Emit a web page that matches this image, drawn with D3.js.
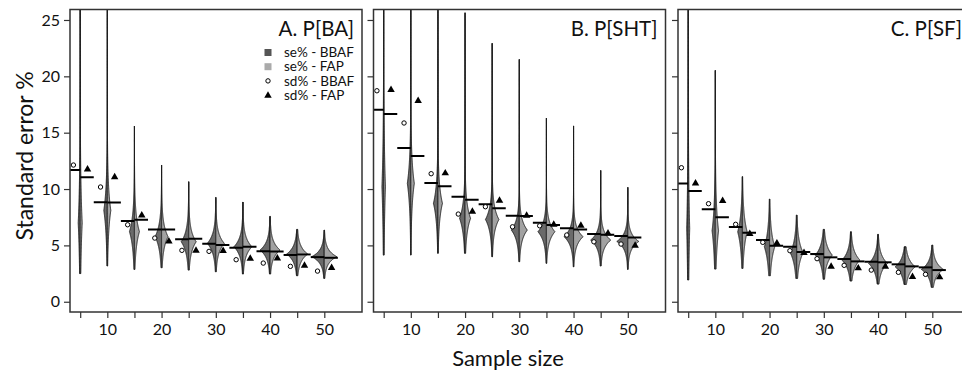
<!DOCTYPE html>
<html><head><meta charset="utf-8">
<script src="https://cdn.jsdelivr.net/npm/d3@7"></script>
<style>body{margin:0;background:#fff}svg{display:block;font-family:Lato,"Open Sans",sans-serif}</style>
</head><body><svg id="chart" width="962" height="373"></svg>
<script>
// ---------- DATA ----------
const sampleSizes = [5, 10, 15, 20, 25, 30, 35, 40, 45, 50];
const panelTitles = ["A. P[BA]", "B. P[SHT]", "C. P[SF]"];
const yTicks = [0, 5, 10, 15, 20, 25];
const xTicks = [5, 10, 15, 20, 25, 30, 35, 40, 45, 50];
const xTickLabels = ["", "10", "", "20", "", "30", "", "40", "", "50"];
const legendLabels = ["se% - BBAF", "se% - FAP", "sd% - BBAF", "sd% - FAP"];

// Panel A: P[BA]
const meanBBAF_A = [11.69, 8.82, 7.16, 6.42, 5.55, 5.15, 4.79, 4.48, 4.15, 3.96];
const meanFAP_A  = [11.04, 8.80, 7.28, 6.42, 5.60, 5.03, 4.88, 4.45, 4.20, 3.90];
const sdBBAF_A   = [12.13, 10.18, 6.83, 5.65, 4.56, 4.47, 3.73, 3.43, 3.14, 2.72];
const sdFAP_A    = [11.80, 11.10, 7.72, 5.41, 4.59, 4.56, 3.88, 3.90, 3.26, 3.05];
const vMin_A     = [2.50, 3.17, 2.87, 3.02, 2.81, 2.66, 2.46, 2.46, 2.31, 2.07];
const vMax_A     = [30, 30, 15.59, 12.13, 10.65, 9.26, 8.85, 7.58, 6.42, 6.36];
const vMode_A    = [7.0, 8.1, 6.22, 5.77, 5.32, 5.18, 4.88, 4.59, 4.23, 4.00];
const vPeak_A    = [0.16, 0.28, 0.40, 0.52, 0.60, 0.68, 0.72, 0.80, 0.84, 1.00];

// Panel B: P[SHT]
const meanBBAF_B = [17.04, 13.64, 10.53, 9.32, 8.64, 7.63, 7.01, 6.51, 6.01, 5.83];
const meanFAP_B  = [16.66, 12.93, 10.24, 9.05, 8.29, 7.60, 6.80, 6.42, 5.95, 5.71];
const sdBBAF_B   = [18.72, 15.86, 11.36, 7.78, 8.43, 6.65, 6.74, 5.92, 5.32, 5.12];
const sdFAP_B    = [18.85, 17.87, 11.45, 8.05, 9.02, 7.69, 6.90, 6.80, 6.12, 5.03];
const vMin_B     = [4.14, 4.14, 4.30, 4.30, 3.99, 3.55, 3.41, 3.10, 3.17, 2.87];
const vMax_B     = [30, 30, 30, 25.64, 22.93, 21.50, 16.30, 15.60, 11.65, 10.15];
const vMode_B    = [10.2, 10.5, 8.73, 7.40, 7.30, 6.36, 6.21, 5.77, 5.47, 5.35];
const vPeak_B    = [0.14, 0.28, 0.36, 0.44, 0.54, 0.64, 0.68, 0.76, 0.80, 0.88];

// Panel C: P[SF]
const meanBBAF_C = [10.50, 8.20, 6.63, 5.47, 4.88, 4.23, 3.79, 3.55, 3.32, 3.05];
const meanFAP_C  = [9.82, 7.49, 6.12, 4.97, 4.41, 3.94, 3.58, 3.50, 3.14, 2.81];
const sdBBAF_C   = [11.89, 8.70, 6.87, 5.27, 4.53, 3.82, 3.23, 2.81, 2.61, 2.43];
const sdFAP_C    = [10.56, 9.00, 6.07, 5.24, 4.38, 3.17, 3.02, 3.17, 2.25, 2.22];
const vMin_C     = [1.93, 2.90, 2.96, 2.31, 2.07, 2.00, 1.84, 1.57, 1.54, 1.28];
const vMax_C     = [30, 20.53, 11.10, 9.11, 7.69, 6.42, 6.21, 5.98, 4.88, 5.03];
const vMode_C    = [6.5, 6.3, 6.2, 4.88, 4.35, 4.14, 3.70, 3.40, 3.10, 2.87];
const vPeak_C    = [0.12, 0.26, 0.38, 0.42, 0.52, 0.68, 0.72, 0.76, 0.80, 0.88];

const panels = [
  {title: panelTitles[0], meanBBAF: meanBBAF_A, meanFAP: meanFAP_A, sdBBAF: sdBBAF_A, sdFAP: sdFAP_A, vMin: vMin_A, vMax: vMax_A, vMode: vMode_A, vPeak: vPeak_A},
  {title: panelTitles[1], meanBBAF: meanBBAF_B, meanFAP: meanFAP_B, sdBBAF: sdBBAF_B, sdFAP: sdFAP_B, vMin: vMin_B, vMax: vMax_B, vMode: vMode_B, vPeak: vPeak_B},
  {title: panelTitles[2], meanBBAF: meanBBAF_C, meanFAP: meanFAP_C, sdBBAF: sdBBAF_C, sdFAP: sdFAP_C, vMin: vMin_C, vMax: vMax_C, vMode: vMode_C, vPeak: vPeak_C}
];

// ---------- LAYOUT ----------
const svg = d3.select("#chart");
const panelLeft = [70, 373.5, 678];
const panelW = 292, plotTop = 9.5, plotBottom = 312;
const colDark = "#6a6a6a", colLight = "#a2a2a2";
const y = d3.scaleLinear().domain([-0.91, 25.93]).range([plotBottom, plotTop]);
const widthScale = d3.scaleLinear().domain([0, 1]).range([0, 12.5]);
const areaConst = 1.2; // equal-area violins (total spread in y units at peak 1)

panels.forEach((p, pi) => {
  const L = panelLeft[pi];
  const x = d3.scaleLinear().domain([3.12, 56.95]).range([L, L + panelW]);
  const g = svg.append("g");
  const clipId = "clip" + pi;
  svg.append("clipPath").attr("id", clipId).append("rect")
    .attr("x", L).attr("y", plotTop).attr("width", panelW).attr("height", plotBottom - plotTop);
  const plot = g.append("g").attr("clip-path", `url(#${clipId})`);

  // violins
  sampleSizes.forEach((n, i) => {
    const lo = p.vMin[i], hi = p.vMax[i], mode = p.vMode[i], peak = p.vPeak[i];
    const s = (areaConst / peak) / 2;
    const vals = d3.range(0, 401).map(k => lo + (hi - lo) * k / 400);
    vals.push(mode); vals.sort((a, b) => a - b);
    const w = v => widthScale(peak) * Math.exp(-Math.abs(v - mode) / s);
    [[-1, colDark], [1, colLight]].forEach(([side, col]) => {
      const area = d3.area()
        .y(v => y(v))
        .x0(x(n))
        .x1(v => x(n) + side * w(v));
      plot.append("path").datum(vals).attr("d", area)
        .attr("fill", col).attr("stroke", "#1a1a1a").attr("stroke-width", 0.9)
        .attr("stroke-linejoin", "round");
    });
  });

  // mean lines
  sampleSizes.forEach((n, i) => {
    plot.append("line").attr("x1", x(n - 2.5)).attr("x2", x(n))
      .attr("y1", y(p.meanBBAF[i])).attr("y2", y(p.meanBBAF[i]))
      .attr("stroke", "#000").attr("stroke-width", 2);
    plot.append("line").attr("x1", x(n)).attr("x2", x(n + 2.5))
      .attr("y1", y(p.meanFAP[i])).attr("y2", y(p.meanFAP[i]))
      .attr("stroke", "#000").attr("stroke-width", 2);
  });

  // sd points
  sampleSizes.forEach((n, i) => {
    plot.append("circle").attr("cx", x(n - 1.25)).attr("cy", y(p.sdBBAF[i])).attr("r", 2.2)
      .attr("fill", "#fff").attr("stroke", "#000").attr("stroke-width", 1);
    plot.append("path").attr("d", d3.symbol(d3.symbolTriangle, 24)())
      .attr("transform", `translate(${x(n + 1.35)},${y(p.sdFAP[i]) + 0.5})`)
      .attr("fill", "#000");
  });

  // frame
  g.append("rect").attr("x", L).attr("y", plotTop).attr("width", panelW).attr("height", plotBottom - plotTop)
    .attr("fill", "none").attr("stroke", "#333").attr("stroke-width", 1.5);

  // y axis
  const ya = g.append("g").attr("transform", `translate(${L},0)`)
    .call(d3.axisLeft(y).tickValues(yTicks).tickSize(6).tickPadding(4)
      .tickFormat(d => pi === 0 ? d : ""));
  ya.select(".domain").remove();
  ya.selectAll("line").attr("stroke", "#333").attr("stroke-width", 1.2);
  ya.selectAll("text").attr("font-size", 16).attr("fill", "#111").attr("font-family", "Lato");

  // x axis
  const xa = g.append("g").attr("transform", `translate(0,${plotBottom})`)
    .call(d3.axisBottom(x).tickValues(xTicks).tickSize(6).tickPadding(6)
      .tickFormat((d, k) => xTickLabels[k]));
  xa.select(".domain").remove();
  xa.selectAll("line").attr("stroke", "#333").attr("stroke-width", 1.2);
  xa.selectAll("text").attr("font-size", 16).attr("fill", "#111").attr("font-family", "Lato");

  // title
  g.append("text").attr("x", L + panelW - 8).attr("y", 36).attr("text-anchor", "end")
    .attr("font-size", 20.5).attr("fill", "#111").text(p.title);
});

// legend (panel A)
const lg = svg.append("g");
const legY = [52.5, 66.7, 80.9, 95.1];
lg.append("rect").attr("x", 264.5).attr("y", legY[0] - 3.5).attr("width", 7).attr("height", 7).attr("fill", "#555");
lg.append("rect").attr("x", 264.5).attr("y", legY[1] - 3.5).attr("width", 7).attr("height", 7).attr("fill", "#aaa");
lg.append("circle").attr("cx", 268).attr("cy", legY[2]).attr("r", 2.2).attr("fill", "#fff").attr("stroke", "#000");
lg.append("path").attr("d", d3.symbol(d3.symbolTriangle, 24)()).attr("transform", `translate(268,${legY[3] + 0.5})`).attr("fill", "#000");
legendLabels.forEach((t, i) => {
  lg.append("text").attr("x", 284).attr("y", legY[i]).attr("dy", "0.35em")
    .attr("font-size", 13.5).attr("fill", "#111").text(t);
});

// axis titles
svg.append("text").attr("transform", "translate(33,156) rotate(-90)").attr("text-anchor", "middle")
  .attr("font-size", 23).attr("fill", "#111").text("Standard error %");
svg.append("text").attr("x", 508).attr("y", 366).attr("text-anchor", "middle")
  .attr("font-size", 22).attr("fill", "#111").text("Sample size");
</script></body></html>
